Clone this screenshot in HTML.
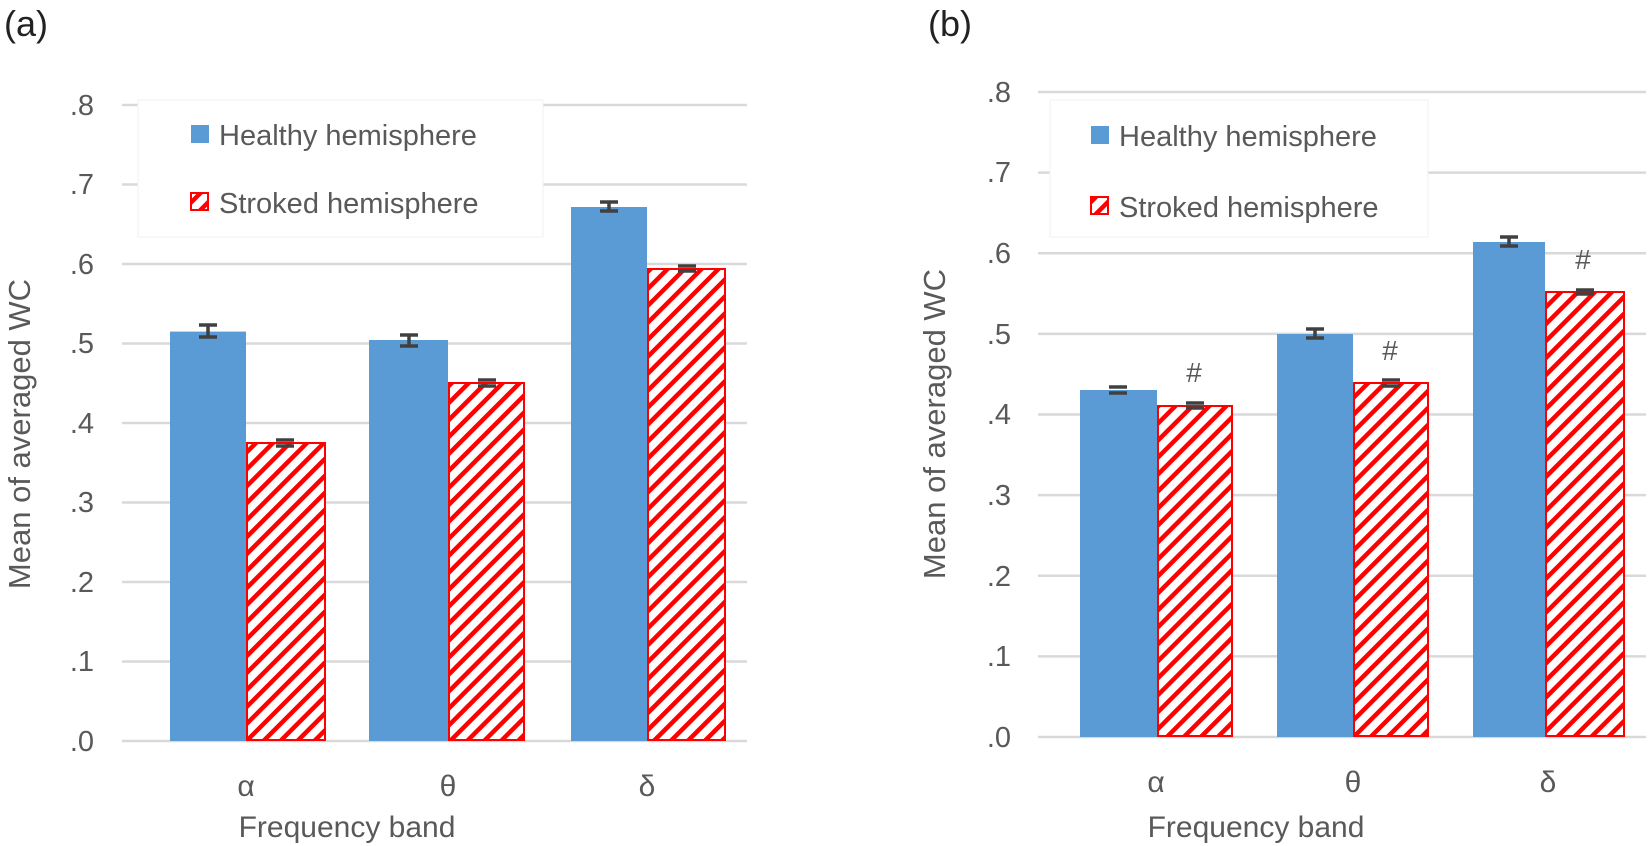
<!DOCTYPE html>
<html><head><meta charset="utf-8"><style>
html,body{margin:0;padding:0;background:#fff;}
svg{display:block;}
text{font-family:"Liberation Sans",sans-serif;fill:#595959;}
</style></head><body>
<svg width="1648" height="846" viewBox="0 0 1648 846" xmlns="http://www.w3.org/2000/svg">
<defs>
<pattern id="h" patternUnits="userSpaceOnUse" width="12" height="12" patternTransform="rotate(-45)">
<rect width="12" height="12" fill="#fff"/>
<rect x="0" y="0" width="12" height="4.5" fill="#ff0000"/>
</pattern>
</defs>

<!-- Panel A -->
<text x="4" y="36" font-size="36" style="fill:#222">(a)</text>
<g stroke="#d9d9d9" stroke-width="2.5">
<line x1="122" x2="747" y1="105" y2="105"/>
<line x1="122" x2="747" y1="184.5" y2="184.5"/>
<line x1="122" x2="747" y1="264" y2="264"/>
<line x1="122" x2="747" y1="343.5" y2="343.5"/>
<line x1="122" x2="747" y1="423" y2="423"/>
<line x1="122" x2="747" y1="502.5" y2="502.5"/>
<line x1="122" x2="747" y1="582" y2="582"/>
<line x1="122" x2="747" y1="661.5" y2="661.5"/>
<line x1="122" x2="747" y1="741" y2="741"/>
</g>
<g font-size="29" text-anchor="end">
<text x="94" y="115">.8</text><text x="94" y="194">.7</text><text x="94" y="274">.6</text>
<text x="94" y="353">.5</text><text x="94" y="433">.4</text><text x="94" y="512">.3</text>
<text x="94" y="592">.2</text><text x="94" y="671">.1</text><text x="94" y="751">.0</text>
</g>
<text transform="translate(30,434) rotate(-90)" font-size="31" text-anchor="middle">Mean of averaged WC</text>
<rect x="138" y="100" width="405" height="137" fill="#fff" stroke="#f2f2f2" stroke-width="1"/>
<rect x="191" y="125" width="18" height="18" fill="#5b9bd5"/>
<text x="219" y="145" font-size="29">Healthy hemisphere</text>
<rect x="191" y="193" width="17" height="17" fill="url(#h)" stroke="#ff0000" stroke-width="2"/>
<text x="219" y="213" font-size="29">Stroked hemisphere</text>

<rect x="170" y="331.6" width="76" height="409.4" fill="#5b9bd5"/>
<rect x="247" y="443" width="78" height="297" fill="url(#h)" stroke="#ff0000" stroke-width="2"/>
<rect x="369" y="340" width="79" height="401" fill="#5b9bd5"/>
<rect x="449" y="383" width="75" height="357" fill="url(#h)" stroke="#ff0000" stroke-width="2"/>
<rect x="571" y="207" width="76" height="534" fill="#5b9bd5"/>
<rect x="648" y="269" width="77" height="471" fill="url(#h)" stroke="#ff0000" stroke-width="2"/>

<g stroke="#404040" stroke-width="3.5" fill="none">
<path d="M199 325h18M199 337h18M208 325v12"/>
<path d="M276 440h18M276 446h18"/>
<path d="M400 335h18M400 346h18M409 335v11"/>
<path d="M478 380h18M478 386h18"/>
<path d="M600 202h18M600 211h18M609 202v9"/>
<path d="M678 266h18M678 271h18"/>
</g>
<g font-size="30" text-anchor="middle">
<text x="246" y="796">α</text><text x="448" y="796">θ</text><text x="647" y="796">δ</text>
<text x="347" y="837">Frequency band</text>
</g>

<!-- Panel B -->
<text x="928" y="36" font-size="36" style="fill:#222">(b)</text>
<g stroke="#d9d9d9" stroke-width="2.5">
<line x1="1038" x2="1646" y1="92" y2="92"/>
<line x1="1038" x2="1646" y1="172.6" y2="172.6"/>
<line x1="1038" x2="1646" y1="253.3" y2="253.3"/>
<line x1="1038" x2="1646" y1="333.9" y2="333.9"/>
<line x1="1038" x2="1646" y1="414.5" y2="414.5"/>
<line x1="1038" x2="1646" y1="495.1" y2="495.1"/>
<line x1="1038" x2="1646" y1="575.8" y2="575.8"/>
<line x1="1038" x2="1646" y1="656.4" y2="656.4"/>
<line x1="1038" x2="1646" y1="737" y2="737"/>
</g>
<rect x="1050" y="100" width="378" height="137" fill="#fff" stroke="#f2f2f2" stroke-width="1"/>
<g font-size="29" text-anchor="end">
<text x="1011" y="102">.8</text><text x="1011" y="182">.7</text><text x="1011" y="263">.6</text>
<text x="1011" y="344">.5</text><text x="1011" y="424">.4</text><text x="1011" y="505">.3</text>
<text x="1011" y="586">.2</text><text x="1011" y="666">.1</text><text x="1011" y="747">.0</text>
</g>
<text transform="translate(945,424) rotate(-90)" font-size="31" text-anchor="middle">Mean of averaged WC</text>
<rect x="1091" y="126" width="18" height="18" fill="#5b9bd5"/>
<text x="1119" y="146" font-size="29">Healthy hemisphere</text>
<rect x="1091" y="197" width="17" height="17" fill="url(#h)" stroke="#ff0000" stroke-width="2"/>
<text x="1119" y="217" font-size="29">Stroked hemisphere</text>

<rect x="1080" y="390" width="77" height="347" fill="#5b9bd5"/>
<rect x="1158" y="406" width="74" height="330" fill="url(#h)" stroke="#ff0000" stroke-width="2"/>
<rect x="1277" y="334" width="76" height="403" fill="#5b9bd5"/>
<rect x="1354" y="383" width="74" height="353" fill="url(#h)" stroke="#ff0000" stroke-width="2"/>
<rect x="1473" y="242" width="72" height="495" fill="#5b9bd5"/>
<rect x="1546" y="292" width="78" height="444" fill="url(#h)" stroke="#ff0000" stroke-width="2"/>

<g stroke="#404040" stroke-width="3.5" fill="none">
<path d="M1109 387h18M1109 393h18"/>
<path d="M1186 403h18M1186 408h18"/>
<path d="M1306 329h18M1306 338h18M1315 329v9"/>
<path d="M1382 380h18M1382 386h18"/>
<path d="M1500 237h18M1500 246h18M1509 237v9"/>
<path d="M1576 290h18M1576 294h18"/>
</g>
<g font-size="28" text-anchor="middle" style="fill:#404040">
<text x="1194" y="382">#</text><text x="1390" y="360">#</text><text x="1583" y="269">#</text>
</g>
<g font-size="30" text-anchor="middle">
<text x="1156" y="792">α</text><text x="1353" y="792">θ</text><text x="1548" y="792">δ</text>
<text x="1256" y="837">Frequency band</text>
</g>
</svg>
</body></html>
